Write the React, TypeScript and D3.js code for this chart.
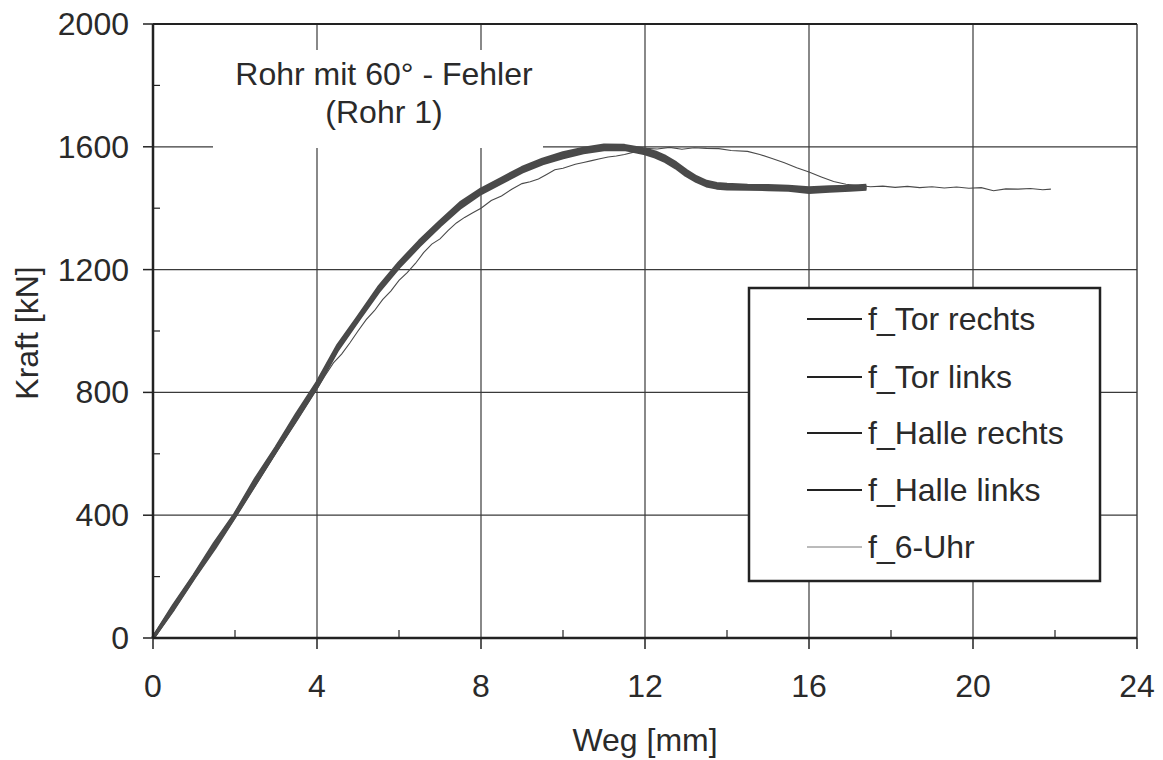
import React from "react";
import * as d3 from "d3";

// ---- data ----
const xThick = [0, 0.5, 1, 1.5, 2, 2.5, 3, 3.5, 4, 4.5, 5, 5.5, 6, 6.5, 7, 7.5, 8, 8.5, 9, 9.5, 10, 10.5, 11, 11.5, 12, 12.25, 12.5, 12.75, 13, 13.25, 13.5, 13.75, 14, 14.5, 15, 15.5, 16, 16.5, 17, 17.4];
const torRechts = [0, 106, 204, 309, 404, 518, 620, 729, 832, 952, 1046, 1142, 1222, 1293, 1357, 1418, 1462, 1497, 1532, 1559, 1580, 1595, 1605, 1604, 1592, 1583, 1568, 1548, 1523, 1502, 1487, 1480, 1477, 1474, 1473, 1471, 1466, 1469, 1471, 1474];
const torLinks = [0, 94, 196, 292, 396, 503, 610, 712, 818, 938, 1034, 1128, 1208, 1278, 1343, 1402, 1448, 1483, 1518, 1545, 1565, 1581, 1591, 1592, 1578, 1567, 1552, 1532, 1507, 1488, 1473, 1466, 1463, 1462, 1461, 1459, 1452, 1456, 1459, 1462];
const halleRechts = [0, 102, 201, 303, 402, 513, 617, 723, 828, 947, 1042, 1137, 1217, 1288, 1352, 1413, 1457, 1492, 1527, 1554, 1575, 1590, 1600, 1600, 1588, 1578, 1563, 1543, 1518, 1498, 1483, 1476, 1472, 1470, 1469, 1467, 1462, 1464, 1467, 1470];
const halleLinks = [0, 97, 198, 297, 398, 507, 612, 717, 822, 942, 1038, 1132, 1212, 1282, 1347, 1407, 1452, 1487, 1522, 1549, 1569, 1585, 1595, 1596, 1582, 1572, 1557, 1537, 1512, 1492, 1477, 1470, 1467, 1466, 1465, 1463, 1457, 1460, 1463, 1466];

const xUhr = [0, 0.5, 1, 1.5, 2, 2.5, 3, 3.5, 4, 4.2, 4.4, 4.6, 4.8, 5, 5.2, 5.4, 5.6, 5.8, 6, 6.2, 6.4, 6.6, 6.8, 7, 7.2, 7.4, 7.6, 7.8, 8, 8.25, 8.5, 8.75, 9, 9.2, 9.4, 9.6, 9.8, 10, 10.3, 10.5, 10.7, 10.9, 11.1, 11.3, 11.5, 11.8, 12, 12.3, 12.6, 12.9, 13.2, 13.5, 13.8, 14.1, 14.5, 14.8, 15.1, 15.4, 15.7, 16, 16.3, 16.6, 16.9, 17.2, 17.5, 17.8, 18.1, 18.4, 18.7, 19, 19.3, 19.6, 19.9, 20.2, 20.5, 20.8, 21.1, 21.4, 21.7, 21.9];
const uhr = [0, 95, 195, 292, 393, 497, 603, 708, 812, 855, 896, 925, 961, 1000, 1037, 1066, 1102, 1130, 1165, 1190, 1220, 1255, 1283, 1300, 1328, 1352, 1370, 1385, 1400, 1425, 1440, 1462, 1480, 1486, 1495, 1510, 1525, 1530, 1543, 1549, 1555, 1561, 1567, 1570, 1575, 1585, 1595, 1593, 1598, 1592, 1597, 1595, 1594, 1588, 1585, 1575, 1562, 1548, 1532, 1518, 1502, 1487, 1478, 1474, 1470, 1472, 1468, 1471, 1467, 1470, 1466, 1469, 1465, 1467, 1457, 1463, 1462, 1464, 1460, 1462];

const seriesNames = ["f_Tor rechts", "f_Tor links", "f_Halle rechts", "f_Halle links", "f_6-Uhr"];
const xTicks = [0, 4, 8, 12, 16, 20, 24];
const xMinor = [2, 6, 10, 14, 18, 22];
const yTicks = [0, 400, 800, 1200, 1600, 2000];
const yMinor = [200, 600, 1000, 1400, 1800];

const FONT = "'Liberation Sans', Arial, Helvetica, sans-serif";
const FS = 32;
const INK = "#2a2a2a";

export default function App() {
  const x = d3.scaleLinear().domain([0, 24]).range([153, 1137]);
  const y = d3.scaleLinear().domain([0, 2000]).range([638, 24]);
  const line = d3
    .line<[number, number]>()
    .x((d) => x(d[0]))
    .y((d) => y(d[1]));

  const thick = [torRechts, torLinks, halleRechts, halleLinks];
  const pts = (xs: number[], ys: number[]) => xs.map((v, i) => [v, ys[i]] as [number, number]);

  const legendRows = [319, 377, 433, 490, 547];

  return (
    <svg width={1163} height={760} style={{ position: "absolute", left: 0, top: 0, background: "#fff" }}>
      <rect x={0} y={0} width={1163} height={760} fill="#fff" />
      {/* grid */}
      {xTicks.slice(1, -1).map((t) => (
        <line key={"gx" + t} x1={x(t)} x2={x(t)} y1={y(0)} y2={y(2000)} stroke="#3a3a3a" strokeWidth={1.2} />
      ))}
      {yTicks.slice(1, -1).map((t) => (
        <line key={"gy" + t} x1={x(0)} x2={x(24)} y1={y(t)} y2={y(t)} stroke="#3a3a3a" strokeWidth={1.2} />
      ))}
      {/* frame right */}
      <line x1={x(24)} x2={x(24)} y1={y(0)} y2={y(2000)} stroke="#3a3a3a" strokeWidth={1.4} />
      {/* title box */}
      <rect x={213} y={50} width={330} height={98} fill="#fff" />
      <text x={384} y={85} textAnchor="middle" fontFamily={FONT} fontSize={FS} fill={INK}>
        Rohr mit 60° - Fehler
      </text>
      <text x={384} y={123} textAnchor="middle" fontFamily={FONT} fontSize={FS} fill={INK}>
        (Rohr 1)
      </text>
      {/* curves */}
      <path d={line(pts(xUhr, uhr)) || ""} fill="none" stroke="#4a4a4a" strokeWidth={1.1} />
      {thick.map((s, i) => (
        <path key={"s" + i} d={line(pts(xThick, s)) || ""} fill="none" stroke="#4a4a4a" strokeWidth={3.4} strokeLinejoin="round" />
      ))}
      {/* legend */}
      <rect x={749} y={288} width={351} height={293} fill="#fff" stroke="#222" strokeWidth={2.5} />
      {seriesNames.map((n, i) => (
        <g key={n}>
          <line
            x1={807}
            x2={862}
            y1={legendRows[i]}
            y2={legendRows[i]}
            stroke={i < 4 ? "#222" : "#777"}
            strokeWidth={i < 4 ? 2.2 : 1}
          />
          <text x={868} y={legendRows[i] + 11} fontFamily={FONT} fontSize={FS} fill={INK}>
            {n}
          </text>
        </g>
      ))}
      {/* axes */}
      <line x1={x(0)} x2={x(24)} y1={y(2000)} y2={y(2000)} stroke="#222" strokeWidth={2.2} />
      <line x1={x(0)} x2={x(0)} y1={y(0)} y2={y(2000)} stroke="#222" strokeWidth={2.5} />
      <line x1={x(0)} x2={x(24)} y1={y(0)} y2={y(0)} stroke="#222" strokeWidth={2.5} />
      {yTicks.map((t) => (
        <g key={"yt" + t}>
          <line x1={x(0) - 10} x2={x(0)} y1={y(t)} y2={y(t)} stroke="#222" strokeWidth={1.5} />
          <text x={129} y={y(t) + 11} textAnchor="end" fontFamily={FONT} fontSize={FS} fill={INK}>
            {t}
          </text>
        </g>
      ))}
      {yMinor.map((t) => (
        <line key={"ym" + t} x1={x(0)} x2={x(0) + 7} y1={y(t)} y2={y(t)} stroke="#222" strokeWidth={1.2} />
      ))}
      {xTicks.map((t) => (
        <g key={"xt" + t}>
          <line x1={x(t)} x2={x(t)} y1={y(0)} y2={y(0) + 11} stroke="#222" strokeWidth={1.5} />
          <text x={x(t)} y={697} textAnchor="middle" fontFamily={FONT} fontSize={FS} fill={INK}>
            {t}
          </text>
        </g>
      ))}
      {xMinor.map((t) => (
        <line key={"xm" + t} x1={x(t)} x2={x(t)} y1={y(0)} y2={y(0) - 8} stroke="#222" strokeWidth={1.2} />
      ))}
      <text x={645} y={751} textAnchor="middle" fontFamily={FONT} fontSize={FS} fill={INK}>
        Weg [mm]
      </text>
      <text
        transform={`translate(38, 333) rotate(-90)`}
        textAnchor="middle"
        fontFamily={FONT}
        fontSize={FS}
        fill={INK}
      >
        Kraft [kN]
      </text>
    </svg>
  );
}
